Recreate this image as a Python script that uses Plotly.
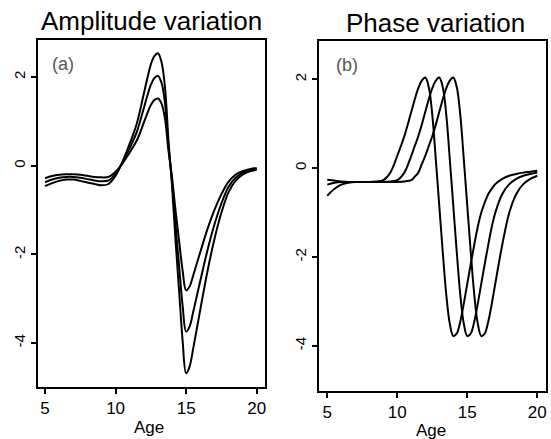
import plotly.graph_objects as go

# ---------------- data ----------------
# Panel (a): amplitude variation
age_a = [5, 5.5, 6, 6.5, 7, 7.5, 8, 8.5, 9, 9.5, 10, 10.5, 11, 11.5, 12,
         12.25, 12.5, 12.75, 13, 13.25, 13.5, 13.75, 14, 14.25, 14.5, 14.75,
         15, 15.25, 15.5, 15.75, 16, 16.5, 17, 17.5, 18, 18.5, 19, 19.5, 20]
amp_high = [-0.46, -0.39, -0.34, -0.31, -0.31, -0.34, -0.375, -0.41, -0.44, -0.41,
            -0.225, 0.10, 0.50, 0.95, 1.625, 1.975, 2.29, 2.475, 2.54, 2.35, 1.775,
            0.56, -0.44, -1.69, -2.81, -3.94, -4.68, -4.525, -4.125, -3.69, -3.25,
            -2.40, -1.66, -1.06, -0.60, -0.34, -0.20, -0.125, -0.09]
amp_mid = [-0.37, -0.31, -0.27, -0.25, -0.25, -0.27, -0.30, -0.33, -0.35, -0.33,
           -0.18, 0.08, 0.40, 0.76, 1.30, 1.58, 1.83, 1.98, 2.03, 1.88, 1.42,
           0.45, -0.35, -1.35, -2.25, -3.15, -3.74, -3.62, -3.30, -2.95, -2.60,
           -1.92, -1.33, -0.85, -0.48, -0.27, -0.16, -0.10, -0.07]
amp_low = [-0.28, -0.23, -0.20, -0.19, -0.19, -0.20, -0.225, -0.25, -0.26, -0.25,
           -0.135, 0.06, 0.30, 0.57, 0.975, 1.185, 1.37, 1.485, 1.52, 1.41, 1.065,
           0.34, -0.26, -1.01, -1.69, -2.36, -2.81, -2.715, -2.475, -2.21, -1.95,
           -1.44, -1.00, -0.64, -0.36, -0.20, -0.12, -0.075, -0.05]

# Panel (b): phase variation
age_b = [5, 5.5, 6, 6.5, 7, 7.5, 8, 8.5, 9, 9.5, 10, 10.5, 11,
         11.25, 11.5, 11.75, 12, 12.25, 12.5, 12.75, 13, 13.25, 13.5, 13.75,
         14, 14.25, 14.5, 14.75, 15, 15.25, 15.5, 15.75, 16, 16.25, 16.5, 16.75,
         17, 17.5, 18, 18.5, 19, 19.5, 20]
phase_early = [-0.26, -0.28, -0.30, -0.31, -0.31, -0.31, -0.31, -0.30, -0.27, -0.10,
               0.28, 0.72, 1.27, 1.55, 1.80, 1.97, 2.04, 1.82, 1.20, 0.20, -0.85,
               -1.90, -2.85, -3.50, -3.78, -3.72, -3.45, -3.05, -2.60, -2.15, -1.72,
               -1.32, -1.00, -0.77, -0.58, -0.46, -0.36, -0.24, -0.17, -0.13, -0.10,
               -0.08, -0.06]
phase_mid = [-0.37, -0.33, -0.31, -0.31, -0.31, -0.31, -0.31, -0.31, -0.31, -0.30,
             -0.27, -0.10, 0.28, 0.50, 0.72, 0.98, 1.27, 1.55, 1.80, 1.97, 2.04,
             1.82, 1.20, 0.20, -0.85, -1.90, -2.85, -3.50, -3.78, -3.72, -3.45,
             -3.05, -2.60, -2.15, -1.72, -1.32, -1.00, -0.58, -0.36, -0.24, -0.17,
             -0.13, -0.10]
phase_late = [-0.62, -0.47, -0.37, -0.33, -0.31, -0.31, -0.31, -0.31, -0.31, -0.31,
              -0.31, -0.30, -0.27, -0.19, -0.10, 0.09, 0.28, 0.50, 0.72, 0.98, 1.27,
              1.55, 1.80, 1.97, 2.04, 1.82, 1.20, 0.20, -0.85, -1.90, -2.85, -3.50,
              -3.78, -3.72, -3.45, -3.05, -2.60, -1.72, -1.00, -0.58, -0.36, -0.24,
              -0.17]

x_tick_vals = [5, 10, 15, 20]
x_tick_text = ["5", "10", "15", "20"]
y_tick_vals = [-4, -2, 0, 2]
y_tick_text = ["-4", "-2", "0", "2"]

titles = ["Amplitude variation", "Phase variation"]
panel_tags = ["(a)", "(b)"]
x_label = "Age"

# ---------------- figure ----------------
W, H = 551, 439
FONT = "Liberation Sans, Arial, Helvetica, sans-serif"

fig = go.Figure()
line_style = dict(color="black", width=2, shape="spline", smoothing=1.0)
for ys in (amp_high, amp_mid, amp_low):
    fig.add_trace(go.Scatter(x=age_a, y=ys, mode="lines", line=line_style,
                             xaxis="x", yaxis="y", hoverinfo="skip"))
for ys in (phase_early, phase_mid, phase_late):
    fig.add_trace(go.Scatter(x=age_b, y=ys, mode="lines", line=line_style,
                             xaxis="x2", yaxis="y2", hoverinfo="skip"))

def px_x(p):
    return p / W

def px_y(p):
    return 1 - p / H

common_x = dict(tickmode="array", tickvals=x_tick_vals, ticktext=x_tick_text,
                ticks="outside", ticklen=5, tickwidth=1.5, tickcolor="black",
                showline=True, mirror=True, linecolor="black", linewidth=2,
                showgrid=False, zeroline=False,
                tickfont=dict(family=FONT, size=17, color="black"))
common_y = dict(tickmode="array", tickvals=y_tick_vals, ticktext=y_tick_text,
                ticks="outside", ticklen=5, tickwidth=1.5, tickcolor="black",
                showline=True, mirror=True, linecolor="black", linewidth=2,
                showgrid=False, zeroline=False, tickangle=-90,
                tickfont=dict(family=FONT, size=15, color="black"))

fig.update_layout(
    width=W, height=H,
    margin=dict(l=0, r=0, t=0, b=0),
    paper_bgcolor="white", plot_bgcolor="white",
    showlegend=False,
    xaxis=dict(domain=[px_x(37.7), px_x(265)], range=[4.48, 20.59], anchor="y", **common_x),
    yaxis=dict(domain=[px_y(387), px_y(39.5)], range=[-4.99, 2.85], anchor="x", **common_y),
    xaxis2=dict(domain=[px_x(319.3), px_x(545.7)], range=[4.43, 20.6], anchor="y2", **common_x),
    yaxis2=dict(domain=[px_y(390.7), px_y(40.7)], range=[-5.01, 2.87], anchor="x2", **common_y),
)

ann = []
ann.append(dict(text=titles[0], x=px_x(151.5), y=px_y(21), xref="paper", yref="paper",
                xanchor="center", yanchor="middle", showarrow=False,
                font=dict(family=FONT, size=26, color="black")))
ann.append(dict(text=titles[1], x=px_x(435), y=px_y(23), xref="paper", yref="paper",
                xanchor="center", yanchor="middle", showarrow=False,
                font=dict(family=FONT, size=26, color="black")))
ann.append(dict(text=panel_tags[0], x=px_x(63.3), y=px_y(64), xref="paper", yref="paper",
                xanchor="center", yanchor="middle", showarrow=False,
                font=dict(family=FONT, size=18, color="#555555")))
ann.append(dict(text=panel_tags[1], x=px_x(346.7), y=px_y(65), xref="paper", yref="paper",
                xanchor="center", yanchor="middle", showarrow=False,
                font=dict(family=FONT, size=18, color="#555555")))
ann.append(dict(text=x_label, x=px_x(149.5), y=px_y(427), xref="paper", yref="paper",
                xanchor="center", yanchor="middle", showarrow=False,
                font=dict(family=FONT, size=17, color="black")))
ann.append(dict(text=x_label, x=px_x(431), y=px_y(430), xref="paper", yref="paper",
                xanchor="center", yanchor="middle", showarrow=False,
                font=dict(family=FONT, size=17, color="black")))
fig.update_layout(annotations=ann)

fig.write_html("out.html")
